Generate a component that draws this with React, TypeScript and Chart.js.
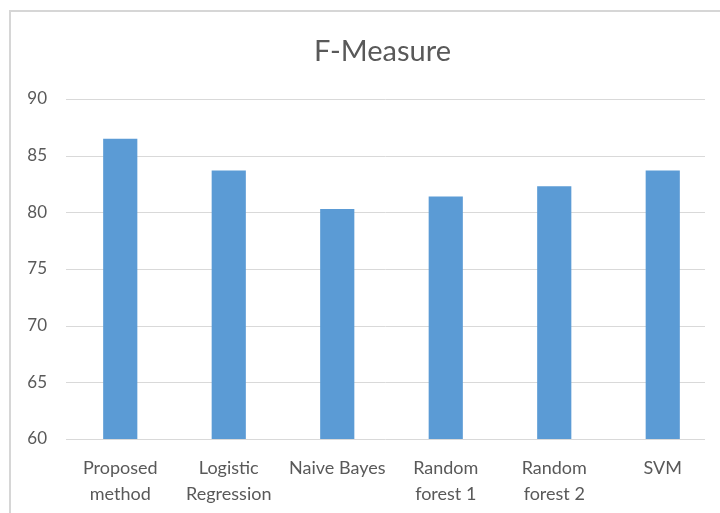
import React, { useEffect, useRef } from "react";
import { Chart, registerables } from "chart.js";

Chart.register(...registerables);

// F-Measure scores per classifier
const categories: string[][] = [
  ["Proposed", "method"],
  ["Logistic", "Regression"],
  ["Naive Bayes"],
  ["Random", "forest 1"],
  ["Random", "forest 2"],
  ["SVM"],
];
const fMeasure: number[] = [86.5, 83.7, 80.3, 81.4, 82.3, 83.7];
const yTicks: number[] = [60, 65, 70, 75, 80, 85, 90];
const chartTitle = "F-Measure";

const TEXT = "#595959";
const GRID = "#d9d9d9";
const BAR = "#5b9bd5";
const FONT = "Lato, 'Open Sans', sans-serif";

// white background plus the frame's top and left edges
const framePlugin = {
  id: "frame",
  beforeDraw(chart: any) {
    const { ctx, width, height } = chart;
    ctx.save();
    ctx.fillStyle = "#ffffff";
    ctx.fillRect(0, 0, width, height);
    ctx.strokeStyle = "#d6d6d6";
    ctx.lineWidth = 2;
    ctx.beginPath();
    ctx.moveTo(10, height);
    ctx.lineTo(10, 11);
    ctx.lineTo(width, 11);
    ctx.stroke();
    ctx.restore();
  },
};

// horizontal value gridlines, stopping a little short of the plot's right edge
const gridPlugin = {
  id: "valueGrid",
  beforeDatasetsDraw(chart: any) {
    const { ctx, chartArea, scales } = chart;
    const y = scales.y;
    ctx.save();
    ctx.strokeStyle = GRID;
    ctx.lineWidth = 1;
    for (const t of yTicks) {
      const py = Math.round(y.getPixelForValue(t)) + 0.5;
      ctx.beginPath();
      ctx.moveTo(chartArea.left, py);
      ctx.lineTo(chartArea.right - 12, py);
      ctx.stroke();
    }
    ctx.restore();
  },
};

// chart heading, centred over the frame rather than the plot
const headingPlugin = {
  id: "heading",
  afterDraw(chart: any) {
    const { ctx, chartArea } = chart;
    ctx.save();
    ctx.fillStyle = TEXT;
    ctx.font = `29px ${FONT}`;
    ctx.textAlign = "center";
    ctx.textBaseline = "alphabetic";
    ctx.fillText(chartTitle, (chartArea.left + chartArea.right) / 2 - 9, chartArea.top - 38);
    ctx.restore();
  },
};

export default function App() {
  const ref = useRef<HTMLCanvasElement | null>(null);

  useEffect(() => {
    if (!ref.current) return;
    const chart = new Chart(ref.current, {
      type: "bar",
      data: {
        labels: categories,
        datasets: [
          {
            label: chartTitle,
            data: fMeasure,
            backgroundColor: BAR,
            borderWidth: 0,
            categoryPercentage: 1,
            barPercentage: 0.315,
          },
        ],
      },
      options: {
        responsive: false,
        animation: false,
        layout: { padding: { left: 10, right: 3, top: 99, bottom: 0 } },
        plugins: {
          legend: { display: false },
          tooltip: { enabled: false },
          title: { display: false },
        },
        scales: {
          x: {
            offset: true,
            grid: { display: false, drawTicks: false },
            border: { display: false },
            ticks: {
              color: TEXT,
              font: { family: FONT, size: 18, lineHeight: 1.45 },
              padding: 16,
              maxRotation: 0,
              autoSkip: false,
            },
            afterFit(scale: any) {
              scale.height = 74;
            },
          },
          y: {
            min: 60,
            max: 90,
            grid: { display: false, drawTicks: false },
            border: { display: false },
            ticks: {
              stepSize: 5,
              color: TEXT,
              font: { family: FONT, size: 17 },
              padding: 19,
            },
            afterFit(scale: any) {
              scale.width = 56;
            },
          },
        },
      },
      plugins: [framePlugin, gridPlugin, headingPlugin],
    });
    return () => chart.destroy();
  }, []);

  return (
    <div style={{ position: "absolute", left: 0, top: 0, width: 720, height: 513, overflow: "hidden" }}>
      <canvas ref={ref} width={720} height={513} />
    </div>
  );
}
